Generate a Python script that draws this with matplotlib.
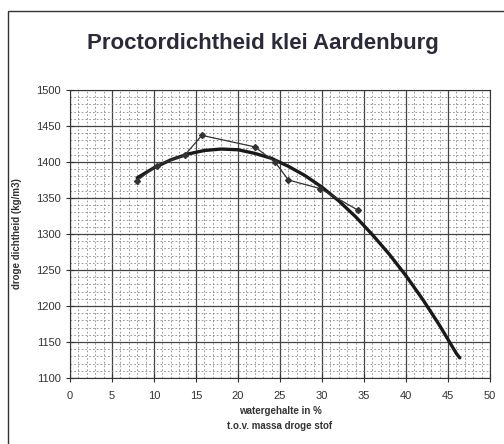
import matplotlib.pyplot as plt
from matplotlib import ticker
from matplotlib.patches import Rectangle

# measured points (water content %, dry density kg/m3)
water = [8.0, 10.3, 13.7, 15.7, 22.0, 24.4, 26.0, 29.8, 34.3]
density = [1374, 1395, 1410, 1437, 1421, 1400, 1375, 1363, 1333]

# trend curve
trend_x = [8, 10, 12, 14, 16, 18, 20, 22, 24, 26, 28, 30, 32, 34, 36, 38, 40, 42, 44, 46, 46.4]
trend_y = [1378, 1392, 1403, 1411, 1416, 1418, 1417, 1412, 1405, 1394, 1381, 1365, 1346, 1324, 1299, 1272, 1242, 1209, 1173, 1134, 1128]

plt.rcParams['font.family'] = ['Liberation Sans', 'DejaVu Sans']

fig = plt.figure(figsize=(5.04, 4.44), dpi=100)
fig.patches.append(Rectangle((8 / 504, -0.1), 1.2, 1 - 11 / 444 + 0.1,
                             transform=fig.transFigure, fill=False,
                             edgecolor='#333333', linewidth=1.0))

ax = fig.add_axes([70 / 504, (444 - 378) / 444, 420 / 504, 288 / 444])

ax.plot(trend_x, trend_y, color='#1a1a1a', linewidth=2.4, solid_capstyle='round', zorder=3)
ax.plot(water, density, color='#333333', linewidth=0.9, marker='D', markersize=3, zorder=4)

ax.set_xlim(0, 50)
ax.set_ylim(1100, 1500)
ax.xaxis.set_major_locator(ticker.MultipleLocator(5))
ax.xaxis.set_minor_locator(ticker.MultipleLocator(1))
ax.yaxis.set_major_locator(ticker.MultipleLocator(50))
ax.yaxis.set_minor_locator(ticker.MultipleLocator(10))

ax.grid(True, which='major', color='#444444', linewidth=0.9)
ax.grid(True, which='minor', color='#888888', linewidth=0.6, linestyle=(0, (2, 2.5)))
ax.set_axisbelow(True)

for s in ax.spines.values():
    s.set_color('#333333')
    s.set_linewidth(0.8)

ax.tick_params(axis='both', which='major', direction='inout', length=6, labelsize=8,
               labelcolor='#333333', color='#333333')
ax.tick_params(axis='both', which='minor', length=0)
ax.tick_params(axis='x', pad=6)

ax.set_xlabel('watergehalte in %\nt.o.v. massa droge stof', fontsize=7,
              fontweight='bold', color='#333333', labelpad=4, linespacing=1.6)
ax.set_ylabel('droge dichtheid (kg/m3)', fontsize=7, fontweight='bold',
              color='#333333', labelpad=10)

fig.text(263 / 504, 1 - 44 / 444, 'Proctordichtheid klei Aardenburg', ha='center', va='center',
         fontsize=16, fontweight='bold', color='#2a2a3a')

fig.savefig('out.png', dpi=100)
